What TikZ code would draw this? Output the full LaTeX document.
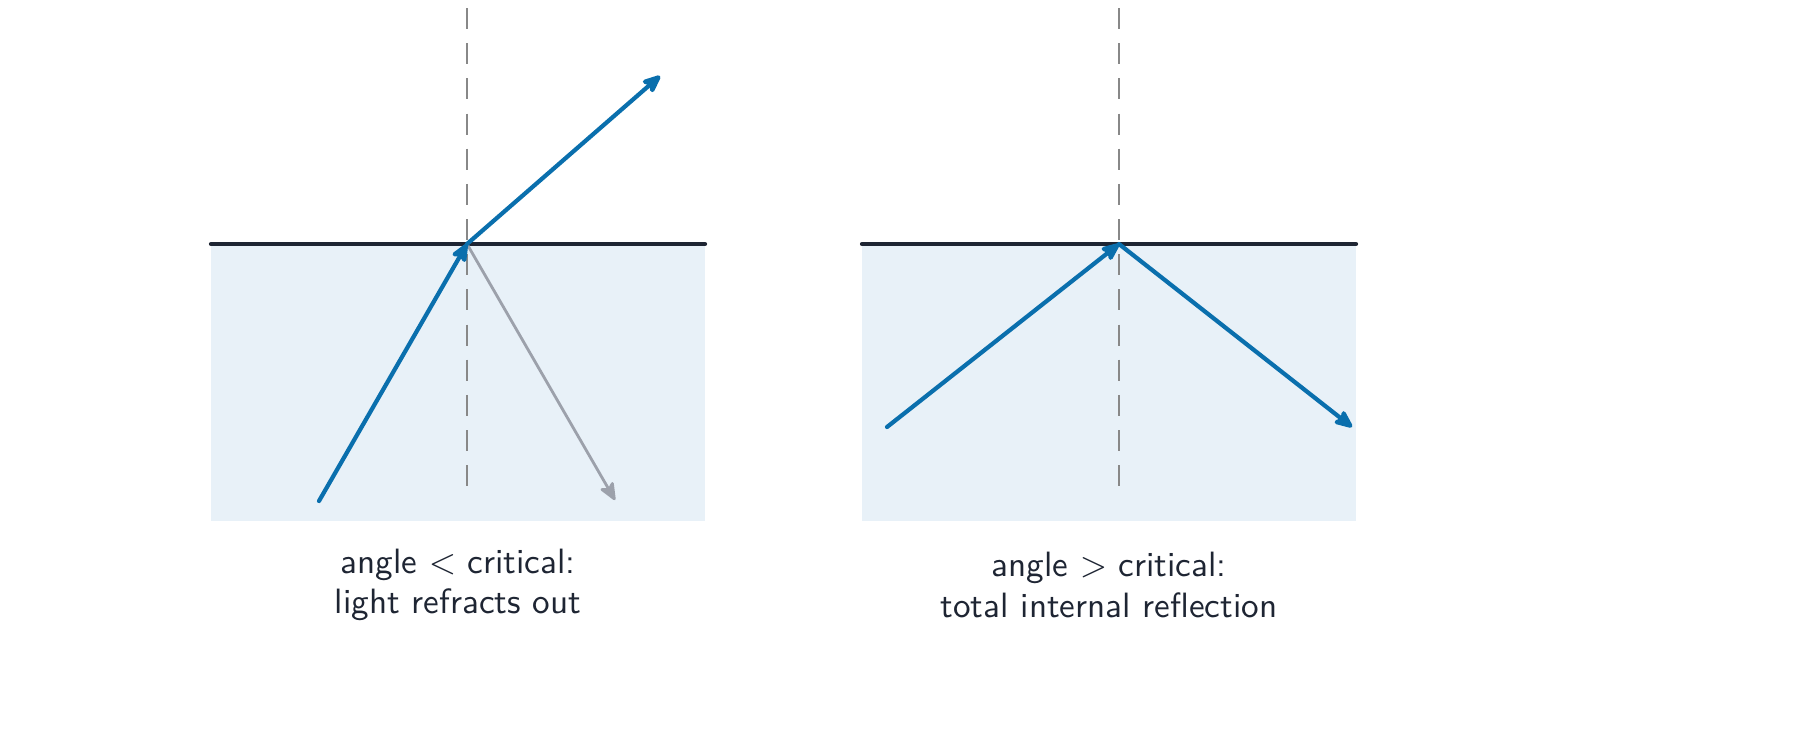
\documentclass[tikz,border=0pt]{standalone}
\usetikzlibrary{arrows.meta}
\definecolor{ink}{HTML}{1E2533}
\definecolor{ray}{HTML}{0A6FAD}
\definecolor{gry}{HTML}{9CA1AB}
\definecolor{water}{HTML}{E8F1F8}
\definecolor{nrm}{HTML}{888888}
\begin{document}
\begin{tikzpicture}[x=0.01cm,y=-0.01cm,
  rayst/.style={ray,line width=1.2pt,line cap=round,-{Stealth[length=6.5pt,width=5.5pt,inset=1.5pt,round]}},
  grayst/.style={gry,line width=0.8pt,line cap=round,-{Stealth[length=6pt,width=5pt,inset=1.5pt,round]}},
  normal/.style={nrm,line width=0.8pt,dash pattern=on 6pt off 4pt},
  surf/.style={ink,line width=1.2pt,line cap=round},
  lbl/.style={ink,align=center,font=\sffamily\fontsize{10}{11.4}\selectfont}]
\useasboundingbox (0,0) rectangle (1800,738);
% left
\fill[water] (211,244) rectangle (705,521);
\draw[normal] (467,8) -- (467,497);
\draw[surf] (211,244) -- (705,244);
\coordinate (L) at (467,244);
\coordinate (Lin) at (319,501);
\coordinate (Lout) at (660,76);
\coordinate (Lref) at (615,500);
\draw[grayst] (L) -- (Lref);
\draw[rayst] (Lin) -- (L);
\draw[rayst] (L) -- (Lout);
\node[lbl] (lt) at (458,585) {angle $<$ critical:\\light refracts out};
% right
\fill[water] (862,244) rectangle (1356,521);
\draw[normal] (1119,8) -- (1119,497);
\draw[surf] (862,244) -- (1356,244);
\coordinate (R) at (1119,244);
\coordinate (Rin) at (887,427);
\coordinate (Rout) at (1352,427);
\draw[rayst] (Rin) -- (R);
\draw[rayst] (R) -- (Rout);
\node[lbl] (rt) at (1109,585) {angle $>$ critical:\\total internal reflection};
\end{tikzpicture}
\end{document}
